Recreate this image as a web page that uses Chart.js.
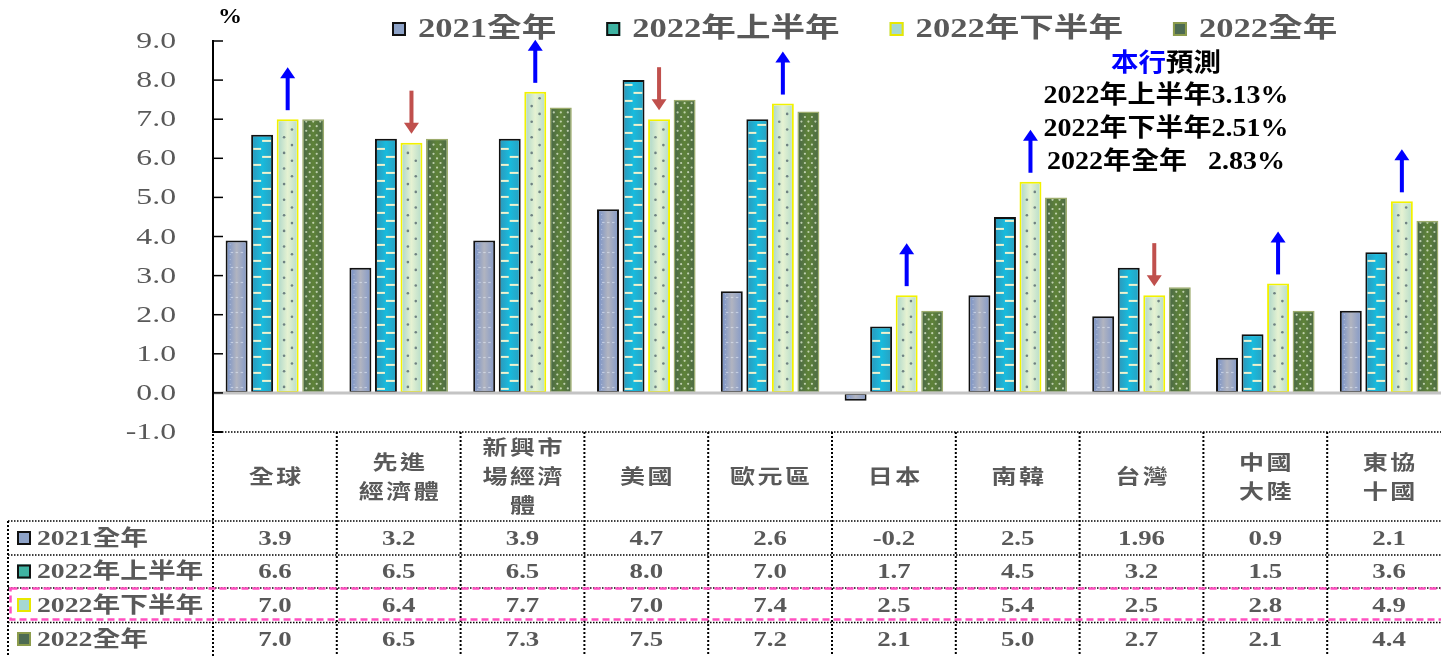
<!DOCTYPE html>
<html><head><meta charset="utf-8">
<script src="https://cdn.jsdelivr.net/npm/chart.js@4.4.1/dist/chart.umd.min.js"></script>
<style>
html,body{margin:0;padding:0;background:#fff;overflow:hidden}
#wrap{position:relative;width:1451px;height:656px}
</style>
</head><body>
<div id="wrap"><canvas id="c"></canvas></div>
<script>
// ---------- data ----------
const categories = [['全球'], ['先進','經濟體'], ['新興市','場經濟','體'], ['美國'], ['歐元區'], ['日本'], ['南韓'], ['台灣'], ['中國','大陸'], ['東協','十國']];
const seriesNames = ['2021全年', '2022年上半年', '2022年下半年', '2022全年'];
const values2021 = [3.9, 3.2, 3.9, 4.7, 2.6, -0.2, 2.5, 1.96, 0.9, 2.1];
const values2022H1 = [6.6, 6.5, 6.5, 8.0, 7.0, 1.7, 4.5, 3.2, 1.5, 3.6];
const values2022H2 = [7.0, 6.4, 7.7, 7.0, 7.4, 2.5, 5.4, 2.5, 2.8, 4.9];
const values2022Full = [7.0, 6.5, 7.3, 7.5, 7.2, 2.1, 5.0, 2.7, 2.1, 4.4];
const arrowDirections = ['up','down','up','down','up','up','up','down','up','up'];
const yMin = -1, yMax = 9, yStep = 1;
const unitLabel = '%';
const forecastTitleBlue = '本行';
const forecastTitleBlack = '預測';
const forecastLines = ['2022年上半年3.13%', '2022年下半年2.51%', '2022年全年   2.83%'];
const seriesData = [values2021, values2022H1, values2022H2, values2022Full];

// ---------- styles ----------
const seriesStyles = [
  {fill:'#98a6c4', border:'#111111', bw:2, grad:['#7d95c7','#b1b4c0','#8a9dc7'], pattern:'grid', sw:'#8ea3c8', swB:'#111'},
  {fill:'#1cb3d6', border:'#111111', bw:2, grad:['#2a9cbf','#18bbdd','#27a4c5'], pattern:'dash', sw:'#3fb3a2', swB:'#111'},
  {fill:'#dcedcf', border:'#f2f200', bw:2, grad:['#b3dacb','#e6f2d2','#bcdfcb'], pattern:'dot', sw:'#a6d8d2', swB:'#e8e800'},
  {fill:'#5a7b3c', border:'#9cab6c', bw:1.5, grad:['#4c6a46','#5f8338','#4e6c45'], pattern:'dense', sw:'#4d6b52', swB:'#8c9c4c'}
];
const GRAY = '#595959';
const SERIF = '"Liberation Serif","Noto Sans CJK TC",serif';

function txt(ctx, s, x, y, o){
  ctx.save();
  ctx.font = o.font;
  ctx.fillStyle = o.color || '#000';
  ctx.textBaseline = 'middle';
  ctx.textAlign = 'left';
  const sp = o.spacing || 0;
  ctx.letterSpacing = sp + 'px';
  const w = ctx.measureText(s).width - sp;
  const sx = o.sx || 1;
  const W = w * sx;
  let left = x;
  if (o.align === 'center') left = x - W/2; else if (o.align === 'right') left = x - W;
  ctx.translate(left, y);
  ctx.scale(sx, 1);
  ctx.fillText(s, 0, 0);
  ctx.restore();
  return W;
}
function measure(ctx, s, o){
  ctx.save(); ctx.font = o.font; const sp = o.spacing||0; ctx.letterSpacing = sp+'px';
  const w = ctx.measureText(s).width - sp; ctx.restore(); return w*(o.sx||1);
}
function dotted(ctx, x1, y1, x2, y2, w){
  ctx.save(); ctx.strokeStyle = '#000'; ctx.lineWidth = w; ctx.setLineDash([w, w]);
  ctx.beginPath(); ctx.moveTo(x1, y1); ctx.lineTo(x2, y2); ctx.stroke(); ctx.restore();
}
function drawPattern(ctx, kind, l, t, r, b){
  const w = r - l;
  if (kind === 'grid'){
    ctx.fillStyle = 'rgba(232,238,250,0.55)';
    for (let y = b - 4; y > t; y -= 15) for (let x = l + 3; x < r - 1; x += 5) ctx.fillRect(x, y, 2.5, 1.2);
    ctx.fillStyle = 'rgba(232,238,250,0.35)';
    for (let y = b - 2; y > t; y -= 5) ctx.fillRect(l + 2, y, 1.2, 1.2);
  } else if (kind === 'dash'){
    ctx.fillStyle = '#eef2cf'; let k = 0;
    for (let y = b - 3; y > t; y -= 8, k++){ if (k % 2 === 0) ctx.fillRect(l, y, 8, 2); else ctx.fillRect(r - 9, y, 9, 2); }
  } else if (kind === 'dot'){
    ctx.fillStyle = '#6f8282'; let k = 0;
    for (let y = b - 4; y > t + 1; y -= 7.8, k++){ const x = k % 2 ? l + w*0.74 : l + w*0.3; ctx.beginPath(); ctx.arc(x, y, 1.3, 0, Math.PI*2); ctx.fill(); }
  } else if (kind === 'dense'){
    ctx.fillStyle = 'rgba(226,236,214,0.75)'; let k = 0;
    for (let y = b - 3; y > t; y -= 4.6, k++) for (let x = l + (k % 2 ? 6 : 2.5); x < r; x += 7){ ctx.beginPath(); ctx.arc(x, y, 1.1, 0, Math.PI*2); ctx.fill(); }
  }
}
function swatch(ctx, x, y, st){
  ctx.save(); ctx.fillStyle = st.sw; ctx.fillRect(x, y, 14, 14);
  ctx.strokeStyle = st.swB; ctx.lineWidth = 2; ctx.strokeRect(x+1, y+1, 12, 12); ctx.restore();
}
const fmt = v => (Math.abs(Math.round(v*10) - v*10) < 1e-9 ? v.toFixed(1) : String(v));

const deco = {
  id: 'deco',
  afterDatasetsDraw(chart){
    const ctx = chart.ctx, ca = chart.chartArea;
    chart.data.datasets.forEach((ds, di) => {
      const st = seriesStyles[di];
      chart.getDatasetMeta(di).data.forEach(el => {
        const p = el.getProps(['x','y','base','width'], true);
        const b = st.bw;
        const l = p.x - p.width/2 + b, r = p.x + p.width/2 - b;
        const t = Math.min(p.y, p.base) + b, bt = Math.max(p.y, p.base) - b;
        if (bt <= t) return;
        ctx.save();
        ctx.beginPath(); ctx.rect(l, t, r - l, bt - t); ctx.clip();
        const g = ctx.createLinearGradient(l, 0, r, 0);
        g.addColorStop(0, st.grad[0]); g.addColorStop(0.5, st.grad[1]); g.addColorStop(1, st.grad[2]);
        ctx.fillStyle = g; ctx.fillRect(l, t, r - l, bt - t);
        drawPattern(ctx, st.pattern, l, t, r, bt);
        ctx.restore();
      });
    });
    const ys = chart.scales.y;
    const y0 = ys.getPixelForValue(0);
    ctx.save(); ctx.strokeStyle = '#c4c4c4'; ctx.lineWidth = 3;
    ctx.beginPath(); ctx.moveTo(ca.left + 1, y0); ctx.lineTo(ca.right, y0); ctx.stroke(); ctx.restore();
    // arrows above the 2022H2 bars
    const meta = chart.getDatasetMeta(2);
    meta.data.forEach((el, i) => {
      const x = el.x, top = el.y;
      const up = arrowDirections[i] === 'up';
      ctx.save();
      ctx.fillStyle = up ? '#0000ff' : '#c0504d';
      const near = top - 9, far = top - 52, head = 11, hw = 7.5;
      if (up){
        ctx.fillRect(x - 2, far + head - 1, 4, near - far - head + 1);
        ctx.beginPath(); ctx.moveTo(x - hw, far + head); ctx.lineTo(x + hw, far + head); ctx.lineTo(x, far); ctx.closePath(); ctx.fill();
      } else {
        ctx.fillRect(x - 2, far, 4, near - far - head + 1);
        ctx.beginPath(); ctx.moveTo(x - hw, near - head); ctx.lineTo(x + hw, near - head); ctx.lineTo(x, near); ctx.closePath(); ctx.fill();
      }
      ctx.restore();
    });
  },
  afterDraw(chart){
    const ctx = chart.ctx, ca = chart.chartArea, xs = chart.scales.x, ys = chart.scales.y;
    // y ticks (inner tick marks + labels)
    ys.ticks.forEach(t => {
      const y = ys.getPixelForValue(t.value);
      ctx.save(); ctx.strokeStyle = '#000'; ctx.lineWidth = 1.5;
      ctx.beginPath(); ctx.moveTo(ca.left, y); ctx.lineTo(ca.left + 10, y); ctx.stroke(); ctx.restore();
      txt(ctx, t.value.toFixed(1), 176, y + 1, {font: '23px ' + SERIF, color: GRAY, sx: 1.38, align: 'right'});
    });
    txt(ctx, unitLabel, 230, 18, {font: 'bold 20px ' + SERIF, color: '#000', sx: 1.2, align: 'center'});
    // legend
    let lx = 392;
    seriesNames.forEach((n, i) => {
      swatch(ctx, lx, 22, seriesStyles[i]);
      const w = txt(ctx, n, lx + 26, 30, {font: 'bold 27px ' + SERIF, color: GRAY, sx: 1.28});
      lx = lx + 26 + w + 50;
    });
    // forecast note
    const fo = {font: 'bold 25px ' + SERIF, sx: 1.1};
    const cx = 1166;
    const wb = measure(ctx, forecastTitleBlue, fo), wk = measure(ctx, forecastTitleBlack, fo);
    txt(ctx, forecastTitleBlue, cx - (wb + wk)/2, 65, {...fo, color: '#0000ff'});
    txt(ctx, forecastTitleBlack, cx - (wb + wk)/2 + wb, 65, {...fo, color: '#000'});
    forecastLines.forEach((s, i) => txt(ctx, s, cx, 97 + i*33, {font: 'bold 25px ' + SERIF, color: '#000', sx: 1.12, align: 'center'}));
    // table
    const n = categories.length;
    const catW = (xs.right - xs.left) / n;
    const edges = []; for (let i = 0; i <= n; i++) edges.push(xs.left + i*catW);
    const headTop = ca.bottom, rowLines = [521, 555, 588, 622.5], bottom = 660;
    const rowCenters = [538, 571.5, 605, 639];
    ctx.save(); ctx.strokeStyle = '#000'; ctx.lineWidth = 2;
    ctx.beginPath(); ctx.moveTo(ca.left - 1, headTop); ctx.lineTo(ca.left + 9, headTop); ctx.stroke(); ctx.restore();
    dotted(ctx, ca.left + 9, headTop, xs.right, headTop, 1.5);
    edges.forEach((x, i) => dotted(ctx, x, i === 0 ? headTop + 2 : headTop, x, bottom, 2));
    dotted(ctx, 8, rowLines[0], 8, bottom, 2);
    rowLines.forEach(y => dotted(ctx, 8, y, xs.right, y, 1.5));
    // header labels
    categories.forEach((lines, i) => {
      const cxx = xs.getPixelForValue(i);
      const lh = 29, y0 = 479 - (lines.length - 1) * lh / 2;
      lines.forEach((s, k) => txt(ctx, s, cxx, y0 + k*lh, {font: 'bold 20px ' + SERIF, color: GRAY, sx: 1.25, spacing: 2, align: 'center'}));
    });
    // rows
    seriesNames.forEach((name, r) => {
      const yc = rowCenters[r];
      swatch(ctx, 17, yc - 7, seriesStyles[r]);
      txt(ctx, name, 37, yc + 1, {font: 'bold 22px ' + SERIF, color: GRAY, sx: 1.26});
      seriesData[r].forEach((v, i) => txt(ctx, fmt(v), xs.getPixelForValue(i), yc + 1, {font: 'bold 22px ' + SERIF, color: GRAY, sx: 1.22, align: 'center'}));
    });
    // pink dashed highlight around 2022H2 row
    ctx.save(); ctx.strokeStyle = '#ff4fc0'; ctx.lineWidth = 2.5; ctx.setLineDash([7, 4]);
    ctx.strokeRect(10.5, 588.5, 1450, 31); ctx.restore();
  }
};

new Chart(document.getElementById('c'), {
  type: 'bar',
  data: {
    labels: categories,
    datasets: seriesNames.map((name, i) => ({
      label: name, data: seriesData[i],
      backgroundColor: seriesStyles[i].fill, borderColor: seriesStyles[i].border, borderWidth: seriesStyles[i].bw,
      borderSkipped: false, categoryPercentage: 0.825, barPercentage: 0.86
    }))
  },
  options: {
    responsive: true, maintainAspectRatio: false, animation: false, events: [],
    layout: {padding: {top: 41, left: 0, right: 0, bottom: 0}},
    plugins: {legend: {display: false}, tooltip: {enabled: false}, title: {display: false}},
    scales: {
      x: {ticks: {display: false}, grid: {display: false}, border: {display: false}, afterFit(s){ s.height = 224; }},
      y: {min: yMin, max: yMax, ticks: {display: false, stepSize: yStep}, grid: {display: false},
          border: {display: true, color: '#000', width: 2}, afterFit(s){ s.width = 213; }}
    }
  },
  plugins: [deco]
});
</script>
</body></html>
